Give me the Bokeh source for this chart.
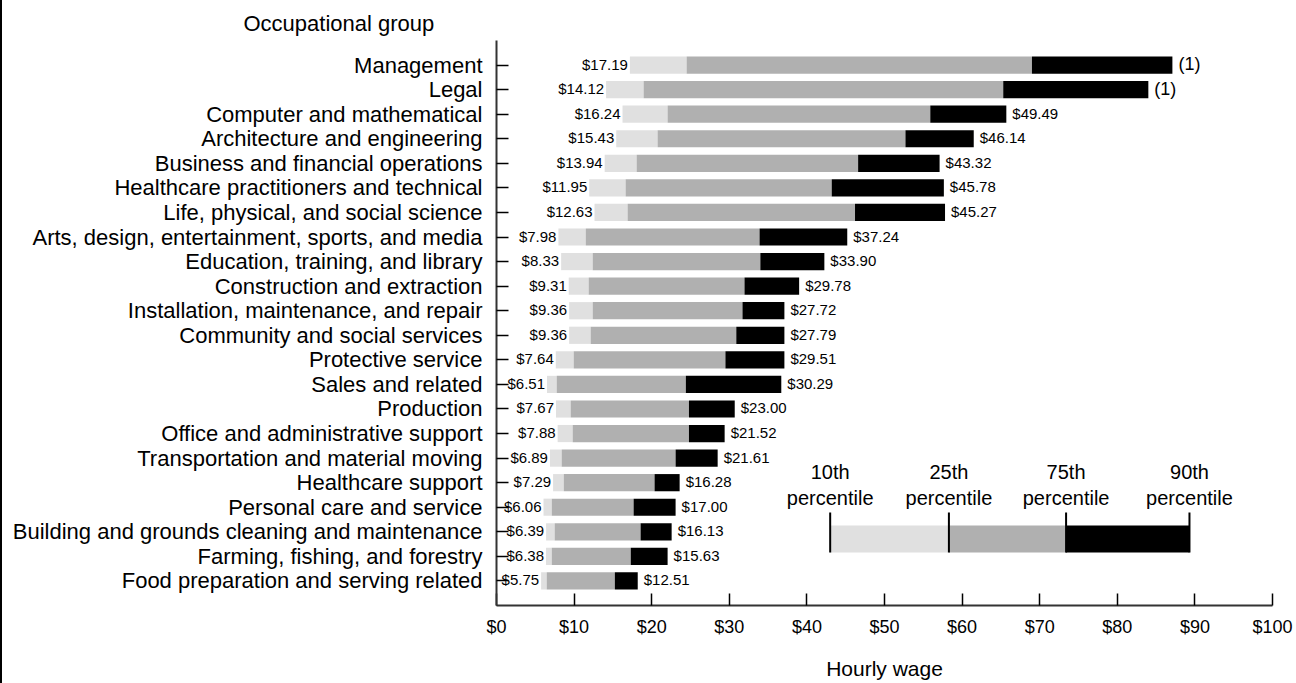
from bokeh.plotting import figure
from bokeh.models import Range1d, FixedTicker, NumeralTickFormatter, ColumnDataSource
from bokeh.core.properties import value
from bokeh.embed import file_html
from bokeh.resources import INLINE

FONT = "Liberation Sans"

categories = [
    "Management",
    "Legal",
    "Computer and mathematical",
    "Architecture and engineering",
    "Business and financial operations",
    "Healthcare practitioners and technical",
    "Life, physical, and social science",
    "Arts, design, entertainment, sports, and media",
    "Education, training, and library",
    "Construction and extraction",
    "Installation, maintenance, and repair",
    "Community and social services",
    "Protective service",
    "Sales and related",
    "Production",
    "Office and administrative support",
    "Transportation and material moving",
    "Healthcare support",
    "Personal care and service",
    "Building and grounds cleaning and maintenance",
    "Farming, fishing, and forestry",
    "Food preparation and serving related",
]

p10 = [17.19, 14.12, 16.24, 15.43, 13.94, 11.95, 12.63, 7.98, 8.33, 9.31, 9.36,
       9.36, 7.64, 6.51, 7.67, 7.88, 6.89, 7.29, 6.06, 6.39, 6.38, 5.75]
p25 = [24.5, 18.96, 22.05, 20.76, 18.06, 16.64, 16.9, 11.5, 12.4, 11.88, 12.4,
       12.14, 9.95, 7.76, 9.56, 9.82, 8.4, 8.67, 7.12, 7.5, 7.12, 6.47]
p75 = [69.0, 65.3, 55.9, 52.7, 46.6, 43.2, 46.2, 33.9, 34.0, 31.96, 31.7,
       30.9, 29.5, 24.4, 24.8, 24.8, 23.08, 20.37, 17.67, 18.57, 17.3, 15.25]
p90 = [87.1, 84.0, 65.7, 61.5, 57.1, 57.65, 57.8, 45.2, 42.25, 39.0, 37.1,
       37.1, 37.1, 36.7, 30.7, 29.4, 28.5, 23.6, 23.08, 22.57, 22.05, 18.2]
p90_labels = ["(1)", "(1)", "$49.49", "$46.14", "$43.32", "$45.78", "$45.27",
              "$37.24", "$33.90", "$29.78", "$27.72", "$27.79", "$29.51",
              "$30.29", "$23.00", "$21.52", "$21.61", "$16.28", "$17.00",
              "$16.13", "$15.63", "$12.51"]

key_edges = [43.0, 58.3, 73.4, 89.3]
key_top = ["10th", "25th", "75th", "90th"]
key_bottom = ["percentile"] * 4
x_ticks = [0, 10, 20, 30, 40, 50, 60, 70, 80, 90, 100]

LIGHT, MID, DARK = "#e0e0e0", "#b0b0b0", "#000000"

rows = list(range(len(categories)))
src = ColumnDataSource(dict(
    y=rows, p10=p10, p25=p25, p75=p75, p90=p90,
    left_lab=["$%.2f" % v for v in p10],
    right_lab=p90_labels,
    right_size=["18px" if s.startswith("(") else "15px" for s in p90_labels],
))

p = figure(width=1294, height=683, x_range=Range1d(0, 100), y_range=Range1d(22, -1),
           output_backend="svg", toolbar_location=None,
           min_border_left=494, min_border_right=24, min_border_top=40, min_border_bottom=78)
p.styles = {"border-left": "2px solid black"}
p.outline_line_color = None
p.xgrid.visible = False
p.ygrid.visible = False
p.background_fill_color = "white"
p.border_fill_color = "white"

p.title.text = "Occupational group"
p.title.align = "left"
p.title.offset = -253
p.title.standoff = 9
p.title.text_font = FONT
p.title.text_font_size = "22px"
p.title.text_font_style = "normal"
p.title.text_color = "black"

H = 0.7
p.hbar(y="y", left="p10", right="p25", height=H, fill_color=LIGHT, line_color=None, source=src)
p.hbar(y="y", left="p25", right="p75", height=H, fill_color=MID, line_color=None, source=src)
p.hbar(y="y", left="p75", right="p90", height=H, fill_color=DARK, line_color=None, source=src)

p.text(x="p10", y="y", text="left_lab", x_offset=-2, y_offset=-1, text_align="right",
       text_baseline="middle", text_font=value(FONT), text_font_size="15px",
       text_color="black", source=src)
p.text(x="p90", y="y", text="right_lab", x_offset=6, y_offset=-1, text_align="left",
       text_baseline="middle", text_font=value(FONT), text_font_size="right_size",
       text_color="black", source=src)

# key
p.hbar(y=19.29, left=key_edges[:-1], right=key_edges[1:], height=1.1,
       fill_color=[LIGHT, MID, DARK], line_color=None)
p.segment(x0=key_edges, y0=18.21, x1=key_edges, y1=19.84, line_color="black", line_width=2)
p.text(x=key_edges, y=16.58, text=key_top, text_align="center", text_baseline="middle",
       text_font=value(FONT), text_font_size="20px", text_color="black")
p.text(x=key_edges, y=17.64, text=key_bottom, text_align="center", text_baseline="middle",
       text_font=value(FONT), text_font_size="20px", text_color="black")

# axes
xa = p.xaxis[0]
xa.ticker = FixedTicker(ticks=x_ticks)
xa.formatter = NumeralTickFormatter(format="$0")
xa.major_tick_in = 12
xa.major_tick_out = 0
xa.minor_tick_in = 0
xa.minor_tick_out = 0
xa.major_label_standoff = 11
xa.major_label_text_font = FONT
xa.major_label_text_font_size = "18px"
xa.major_label_text_color = "black"
xa.axis_line_width = 2
xa.axis_line_color = "#333333"
xa.major_tick_line_color = "black"
xa.major_tick_line_width = 1.5
xa.axis_label = "Hourly wage"
xa.axis_label_standoff = 17
xa.axis_label_text_font = FONT
xa.axis_label_text_font_size = "21px"
xa.axis_label_text_font_style = "normal"
xa.axis_label_text_color = "black"

ya = p.yaxis[0]
ya.ticker = FixedTicker(ticks=rows)
ya.major_label_overrides = {i: c for i, c in zip(rows, categories)}
ya.major_tick_in = 12
ya.major_tick_out = 0
ya.minor_tick_in = 0
ya.minor_tick_out = 0
ya.major_label_standoff = 14
ya.major_label_text_font = FONT
ya.major_label_text_font_size = "22px"
ya.major_label_text_color = "black"
ya.axis_line_width = 2
ya.axis_line_color = "#333333"
ya.major_tick_line_color = "black"
ya.major_tick_line_width = 1.5

open("out.html", "w").write(file_html(p, INLINE))
